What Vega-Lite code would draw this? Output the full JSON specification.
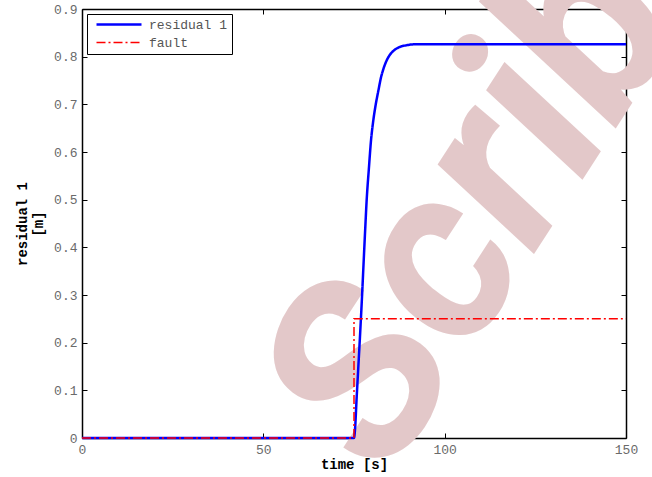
{
  "$schema": "https://vega.github.io/schema/vega-lite/v6.json",
  "width": 544,
  "height": 429,
  "autosize": {"type": "none"},
  "padding": {"left": 82, "top": 9, "right": 26, "bottom": 39},
  "background": "white",
  "config": {
    "view": {"stroke": null},
    "font": "Liberation Mono",
    "axis": {
      "domainColor": "black",
      "domainWidth": 1.5,
      "tickColor": "black",
      "tickWidth": 1,
      "tickSize": -5,
      "grid": false,
      "labelFlush": false,
      "labelOverlap": false,
      "labelFont": "Liberation Mono",
      "labelFontSize": 13,
      "labelColor": "#6a6a6a",
      "labelPadding": 10,
      "titleFont": "Liberation Mono",
      "titleFontSize": 14,
      "titleFontWeight": "bold",
      "titleColor": "black"
    },
    "legend": {
      "labelFont": "Liberation Mono",
      "labelFontSize": 13,
      "labelColor": "#555555",
      "strokeColor": "black",
      "fillColor": "white",
      "padding": 4,
      "rowPadding": 4,
      "cornerRadius": 0
    }
  },
  "datasets": {
    "series": [
      {"t": 0, "v": 0, "s": "residual 1"},
      {"t": 75.0, "v": 0, "s": "residual 1"},
      {"t": 75.3, "v": 0.02, "s": "residual 1"},
      {"t": 75.7, "v": 0.08, "s": "residual 1"},
      {"t": 76.2, "v": 0.15, "s": "residual 1"},
      {"t": 76.7, "v": 0.22, "s": "residual 1"},
      {"t": 77.2, "v": 0.295, "s": "residual 1"},
      {"t": 77.6, "v": 0.36, "s": "residual 1"},
      {"t": 78.1, "v": 0.44, "s": "residual 1"},
      {"t": 78.5, "v": 0.5, "s": "residual 1"},
      {"t": 79.1, "v": 0.565, "s": "residual 1"},
      {"t": 79.7, "v": 0.625, "s": "residual 1"},
      {"t": 80.3, "v": 0.665, "s": "residual 1"},
      {"t": 81.0, "v": 0.7, "s": "residual 1"},
      {"t": 81.7, "v": 0.728, "s": "residual 1"},
      {"t": 82.4, "v": 0.755, "s": "residual 1"},
      {"t": 83.1, "v": 0.774, "s": "residual 1"},
      {"t": 84.0, "v": 0.792, "s": "residual 1"},
      {"t": 85.0, "v": 0.805, "s": "residual 1"},
      {"t": 86.0, "v": 0.813, "s": "residual 1"},
      {"t": 87.5, "v": 0.82, "s": "residual 1"},
      {"t": 89.5, "v": 0.824, "s": "residual 1"},
      {"t": 92, "v": 0.826, "s": "residual 1"},
      {"t": 150, "v": 0.826, "s": "residual 1"},
      {"t": 0, "v": 0, "s": "fault"},
      {"t": 75, "v": 0, "s": "fault"},
      {"t": 75, "v": 0.25, "s": "fault"},
      {"t": 150, "v": 0.25, "s": "fault"}
    ],
    "mark": [
      {"t": 84.0, "v": -0.09, "label": "Scribd"}
    ]
  },
  "layer": [
    {
      "data": {"name": "mark"},
      "mark": {
        "type": "text",
        "align": "left",
        "baseline": "alphabetic",
        "angle": -57,
        "font": "Roboto",
        "fontWeight": "bold",
        "fontStyle": "italic",
        "fontSize": 245,
        "color": "#e3c8c9"
      },
      "encoding": {
        "x": {"field": "t", "type": "quantitative", "axis": null},
        "y": {"field": "v", "type": "quantitative", "axis": null},
        "text": {"field": "label"}
      }
    },
    {
      "data": {"name": "series"},
      "transform": [{"filter": "datum.s === 'residual 1'"}],
      "mark": {"type": "line", "interpolate": "monotone"},
      "encoding": {
        "x": {
          "field": "t", "type": "quantitative",
          "scale": {"domain": [0, 150], "nice": false},
          "axis": {"values": [0, 50, 100, 150], "title": "time [s]", "titlePadding": 1, "orient": "bottom"}
        },
        "y": {
          "field": "v", "type": "quantitative",
          "scale": {"domain": [0, 0.9], "nice": false},
          "axis": {"values": [0, 0.1, 0.2, 0.3, 0.4, 0.5, 0.6, 0.7, 0.8, 0.9], "format": "~g", "title": ["residual 1", "[m]"], "titlePadding": 8, "orient": "left"}
        },
        "color": {
          "field": "s", "type": "nominal",
          "scale": {"domain": ["residual 1", "fault"], "range": ["#0000ff", "#ff0000"]},
          "legend": {"title": null, "orient": "top-left", "offset": 5, "symbolType": "M-0.2,0H8.8", "symbolSize": 100, "symbolStrokeWidth": 2, "labelOffset": 45}
        },
        "strokeDash": {
          "field": "s", "type": "nominal",
          "scale": {"domain": ["residual 1", "fault"], "range": [[1, 0], [9, 3, 2, 3]]},
          "legend": {"title": null, "orient": "top-left", "offset": 5, "symbolType": "M-0.2,0H8.8", "symbolSize": 100, "symbolStrokeWidth": 2, "labelOffset": 45}
        },
        "strokeWidth": {
          "field": "s", "type": "nominal",
          "scale": {"domain": ["residual 1", "fault"], "range": [2.5, 1.5]},
          "legend": null
        }
      }
    },
    {
      "data": {"name": "series"},
      "transform": [{"filter": "datum.s === 'fault'"}],
      "mark": {"type": "line"},
      "encoding": {
        "x": {
          "field": "t", "type": "quantitative",
          "axis": {"values": [0, 50, 100, 150], "labels": false, "title": null, "orient": "top"}
        },
        "y": {
          "field": "v", "type": "quantitative",
          "axis": {"values": [0, 0.1, 0.2, 0.3, 0.4, 0.5, 0.6, 0.7, 0.8, 0.9], "labels": false, "title": null, "orient": "right"}
        },
        "color": {"field": "s", "type": "nominal"},
        "strokeDash": {"field": "s", "type": "nominal"},
        "strokeWidth": {"field": "s", "type": "nominal"}
      }
    }
  ],
  "resolve": {"axis": {"x": "independent", "y": "independent"}}
}
